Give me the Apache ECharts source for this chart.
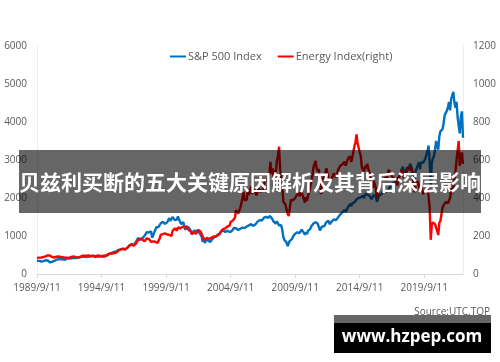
<!DOCTYPE html>
<html>
<head>
<meta charset="utf-8">
<script src="https://cdn.jsdelivr.net/npm/echarts@6/dist/echarts.min.js"></script>
<style>
html,body{margin:0;padding:0;background:#fff;}
#chart{width:500px;height:362px;}
</style>
</head>
<body>
<div id="chart"></div>
<script>
// Monthly sample points, 1989/9/11 .. 2022/9/11
var startYear = 1989, startMonth = 9, pointCount = 397;
var categories = [];
for (var i = 0; i < pointCount; i++) {
  var m = startMonth - 1 + i;
  categories.push((startYear + Math.floor(m / 12)) + '/' + (m % 12 + 1) + '/11');
}

var seriesNames = ['S&P 500 Index', 'Energy Index(right)'];

var sp500 = [
  349, 340, 346, 353,
  329, 331, 340, 331, 361, 358, 356, 323, 306, 304, 322, 330,
  344, 367, 375, 375, 390, 371, 388, 395, 388, 392, 375, 417,
  409, 413, 404, 415, 415, 408, 424, 414, 418, 419, 431, 436,
  439, 443, 452, 440, 450, 451, 448, 464, 459, 468, 462, 466,
  482, 467, 446, 451, 457, 444, 458, 475, 463, 472, 454, 459,
  470, 487, 501, 515, 533, 545, 562, 562, 584, 582, 605, 616,
  636, 640, 645, 654, 669, 671, 640, 652, 687, 705, 757, 741,
  786, 791, 757, 801, 848, 885, 954, 899, 947, 915, 955, 970,
  980, 1049, 1102, 1112, 1091, 1134, 1121, 957, 1017, 1098, 1164, 1229,
  1280, 1238, 1286, 1335, 1302, 1373, 1329, 1320, 1283, 1363, 1389, 1469,
  1394, 1366, 1499, 1452, 1421, 1455, 1431, 1518, 1437, 1429, 1315, 1320,
  1366, 1240, 1160, 1249, 1256, 1224, 1211, 1134, 1041, 1060, 1139, 1148,
  1130, 1107, 1147, 1077, 1067, 990, 850, 916, 815, 800, 936, 880,
  856, 841, 800, 917, 964, 975, 990, 1008, 996, 1051, 1058, 1112,
  1131, 1145, 1126, 1107, 1121, 1141, 1102, 1104, 1115, 1130, 1174, 1212,
  1181, 1204, 1181, 1157, 1192, 1191, 1234, 1220, 1229, 1207, 1249, 1248,
  1280, 1281, 1295, 1311, 1270, 1270, 1277, 1304, 1336, 1378, 1401, 1418,
  1438, 1407, 1421, 1482, 1531, 1503, 1455, 1474, 1527, 1553, 1481, 1468,
  1379, 1331, 1323, 1386, 1400, 1280, 1267, 1283, 1166, 969, 896, 903,
  826, 735, 700, 873, 919, 919, 987, 1021, 1057, 1036, 1096, 1115,
  1074, 1104, 1169, 1187, 1089, 1031, 1102, 1049, 1141, 1183, 1181, 1258,
  1286, 1327, 1326, 1364, 1345, 1321, 1292, 1150, 1131, 1253, 1247, 1258,
  1312, 1366, 1408, 1398, 1310, 1362, 1379, 1407, 1441, 1412, 1416, 1426,
  1498, 1515, 1569, 1598, 1631, 1606, 1686, 1633, 1682, 1757, 1806, 1848,
  1783, 1859, 1872, 1884, 1924, 1960, 1931, 2003, 1972, 2018, 2068, 2059,
  1995, 2105, 2068, 2086, 2107, 2063, 2104, 1972, 1920, 2079, 2080, 2044,
  1900, 1932, 2060, 2065, 2097, 2099, 2174, 2171, 2168, 2126, 2199, 2239,
  2279, 2364, 2363, 2384, 2412, 2423, 2470, 2472, 2519, 2575, 2648, 2674,
  2824, 2714, 2641, 2648, 2705, 2718, 2816, 2902, 2914, 2712, 2760, 2450,
  2704, 2784, 2834, 2946, 2752, 2942, 2980, 2926, 2977, 3038, 3141, 3231,
  3380, 2954, 2300, 2912, 3044, 3100, 3271, 3500, 3363, 3270, 3622, 3756,
  3714, 3811, 3973, 4181, 4204, 4298, 4395, 4523, 4308, 4605, 4567, 4796,
  4516, 4374, 4530, 4132, 3900, 3700, 4130, 4280, 3586
];

var energy = [
  85, 84, 86, 90,
  86, 88, 90, 88, 93, 92, 98, 100, 97, 94, 90, 88,
  86, 90, 91, 90, 92, 88, 90, 90, 88, 90, 86, 88,
  86, 87, 85, 88, 90, 89, 92, 90, 89, 87, 86, 87,
  90, 94, 96, 95, 96, 97, 96, 99, 98, 100, 94, 93,
  96, 94, 93, 96, 97, 95, 96, 96, 94, 98, 96, 95,
  97, 100, 104, 106, 108, 106, 108, 108, 110, 108, 114, 120,
  124, 126, 130, 134, 132, 134, 130, 134, 138, 142, 150, 150,
  154, 152, 150, 156, 160, 165, 180, 176, 186, 182, 180, 178,
  172, 180, 188, 190, 184, 178, 170, 160, 172, 178, 170, 168,
  164, 162, 186, 206, 202, 210, 210, 214, 206, 208, 204, 206,
  210, 200, 226, 224, 240, 230, 228, 246, 250, 240, 236, 248,
  240, 246, 236, 250, 248, 232, 228, 224, 212, 222, 216, 216,
  212, 218, 232, 228, 224, 212, 196, 196, 178, 186, 190, 188,
  184, 184, 190, 188, 198, 200, 196, 204, 204, 208, 212, 224,
  226, 236, 236, 240, 242, 250, 258, 254, 274, 276, 282, 282,
  296, 336, 332, 318, 322, 348, 374, 398, 430, 388, 392, 392,
  444, 416, 420, 460, 422, 426, 444, 434, 414, 432, 450, 440,
  432, 430, 444, 468, 492, 492, 494, 486, 528, 590, 528, 556,
  506, 548, 530, 596, 624, 670, 552, 552, 460, 380, 370, 366,
  340, 316, 305, 346, 390, 380, 388, 390, 400, 410, 420, 432,
  410, 420, 430, 440, 396, 376, 404, 386, 412, 430, 458, 490,
  520, 560, 580, 595, 556, 540, 552, 490, 420, 500, 500, 510,
  520, 556, 530, 520, 478, 492, 500, 516, 530, 520, 508, 510,
  550, 552, 570, 566, 578, 568, 590, 570, 590, 606, 612, 620,
  590, 610, 640, 672, 690, 735, 690, 696, 640, 622, 560, 552,
  540, 570, 556, 580, 552, 534, 492, 478, 452, 490, 484, 452,
  400, 408, 440, 480, 478, 500, 490, 498, 510, 490, 530, 548,
  536, 520, 518, 508, 496, 496, 496, 466, 508, 510, 522, 550,
  558, 506, 500, 540, 560, 558, 560, 548, 562, 508, 480, 430,
  470, 476, 488, 480, 440, 470, 460, 420, 440, 432, 436, 454,
  410, 350, 180, 260, 272, 280, 262, 260, 226, 205, 268, 280,
  290, 350, 362, 356, 380, 390, 372, 366, 400, 450, 424, 420,
  500, 540, 600, 600, 700, 570, 600, 640, 580
];

var leftTicks = { min: 0, max: 6000, interval: 1000 };
var rightTicks = { min: 0, max: 1200, interval: 200 };

var chart = echarts.init(document.getElementById('chart'), null, { renderer: 'canvas' });
var labelColor = '#595959';
var lineColor = '#d9d9d9';
var font = '"Open Sans", "Noto Sans", sans-serif';
var plain = function (v) { return String(v); };

chart.setOption({
  animation: false,
  backgroundColor: '#ffffff',
  textStyle: { fontFamily: font },
  legend: {
    left: 165,
    top: 46,
    itemWidth: 16,
    itemHeight: 2,
    itemGap: 16,
    icon: 'rect',
    textStyle: { color: labelColor, fontSize: 11, fontFamily: font, padding: [0, 0, 0, -3] },
    data: seriesNames
  },
  grid: { left: 37, right: 37, top: 46, bottom: 88, containLabel: false },
  xAxis: {
    type: 'category',
    data: categories,
    boundaryGap: false,
    axisLine: { lineStyle: { color: lineColor, width: 1 } },
    axisTick: { show: true, interval: 59, length: 4, lineStyle: { color: lineColor } },
    axisLabel: { interval: 59, color: labelColor, fontSize: 10, margin: 9, fontFamily: font },
    splitLine: { show: false }
  },
  yAxis: [
    {
      type: 'value', min: leftTicks.min, max: leftTicks.max, interval: leftTicks.interval,
      axisLine: { show: true, lineStyle: { color: '#eeeeee' } },
      axisTick: { show: false },
      axisLabel: { color: labelColor, fontSize: 10, margin: 10, fontFamily: font, formatter: plain },
      splitLine: { show: false }
    },
    {
      type: 'value', min: rightTicks.min, max: rightTicks.max, interval: rightTicks.interval,
      position: 'right',
      axisLine: { show: true, lineStyle: { color: '#eeeeee' } },
      axisTick: { show: false },
      axisLabel: { color: labelColor, fontSize: 10, margin: 10, fontFamily: font, formatter: plain },
      splitLine: { show: false }
    }
  ],
  series: [
    {
      name: seriesNames[0], type: 'line', yAxisIndex: 0, data: sp500,
      showSymbol: false, symbol: 'none', smooth: false,
      lineStyle: { color: '#0070C0', width: 2.4 }, itemStyle: { color: '#0070C0' }, z: 2
    },
    {
      name: seriesNames[1], type: 'line', yAxisIndex: 1, data: energy,
      showSymbol: false, symbol: 'none', smooth: false,
      lineStyle: { color: '#FF0000', width: 2.4 }, itemStyle: { color: '#FF0000' }, z: 3
    }
  ],
  graphic: [
    {
      type: 'rect', z: 100,
      shape: { x: 19, y: 150, width: 462, height: 63 },
      style: { fill: 'rgba(0,0,0,0.6)' }
    },
    {
      type: 'text', z: 101, x: 250, y: 182,
      style: {
        text: '贝兹利买断的五大关键原因解析及其背后深层影响',
        fill: '#ffffff',
        fontFamily: '"Noto Sans CJK SC"',
        fontWeight: 'bold',
        fontSize: 21,
        textAlign: 'center', textVerticalAlign: 'middle'
      }
    },
    {
      type: 'text', z: 50, x: 490, y: 312,
      style: {
        text: 'Source:UTC.TOP', fill: labelColor,
        fontFamily: '"Open Sans"', fontSize: 10,
        textAlign: 'right', textVerticalAlign: 'middle'
      }
    },
    {
      type: 'rect', z: 100,
      shape: { x: 334, y: 315, width: 157, height: 8 },
      style: { fill: 'rgba(0,0,0,0.6)' }
    },
    {
      type: 'rect', z: 100,
      shape: { x: 334, y: 323, width: 157, height: 30 },
      style: { fill: '#000000' }
    },
    {
      type: 'text', z: 101, x: 412, y: 337,
      style: {
        text: 'www.hzpep.com', fill: '#ffffff',
        fontFamily: '"Open Sans"', fontWeight: 'bold', fontSize: 17,
        textAlign: 'center', textVerticalAlign: 'middle'
      }
    }
  ]
});
</script>
</body>
</html>
